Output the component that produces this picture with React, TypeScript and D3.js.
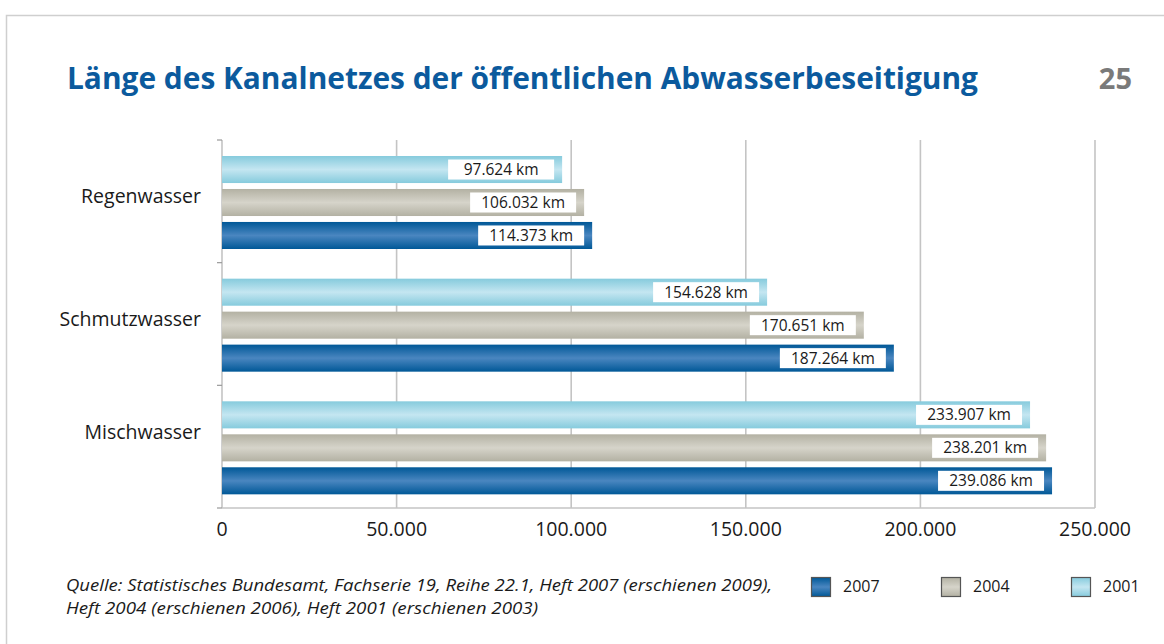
import React from 'react';
import * as d3 from 'd3';

// categories from top to bottom
const categories = ['Regenwasser', 'Schmutzwasser', 'Mischwasser'];
// series drawn inside each category, top to bottom
const series = ['2001', '2004', '2007'];
// bar lengths as drawn in the picture (km)
const values2001 = [97400, 156100, 231400];
const values2004 = [103700, 183800, 236000];
const values2007 = [106000, 192400, 237700];
// printed labels on the bars
const labels2001 = ['97.624 km', '154.628 km', '233.907 km'];
const labels2004 = ['106.032 km', '170.651 km', '238.201 km'];
const labels2007 = ['114.373 km', '187.264 km', '239.086 km'];
const xTicks = [0, 50000, 100000, 150000, 200000, 250000];
const legendOrder = ['2007', '2004', '2001'];

const valuesBySeries: Record<string, number[]> = { '2001': values2001, '2004': values2004, '2007': values2007 };
const labelsBySeries: Record<string, string[]> = { '2001': labels2001, '2004': labels2004, '2007': labels2007 };

// gradient stops: edge, centre
const colors: Record<string, [string, string]> = {
  '2007': ['#005897', '#4a86c0'],
  '2004': ['#b3b1a3', '#d6d4ca'],
  '2001': ['#86cbdd', '#c4e6f1'],
};

const fmt = (v: number) => (v === 0 ? '0' : d3.format(',')(v).replace(/,/g, '.'));

export default function App() {
  const width = 1164;
  const height = 644;
  const x = d3.scaleLinear().domain([0, 250000]).range([222, 1095]);
  const y = d3.scaleBand().domain(categories).range([140, 508]).padding(0);
  const yInner = d3.scaleBand().domain(series).range([16, 109]).paddingInner(0.18).paddingOuter(0);
  const bh = yInner.bandwidth();
  const grid = '#c4c4c4';
  const boundaries = [...categories.map((c) => y(c) as number), 508];

  return (
    <svg width={width} height={height} style={{ position: 'absolute', left: 0, top: 0, background: '#fff' }}>
      <defs>
        {series.map((s) => (
          <linearGradient key={s} id={'g' + s} x1="0" y1="0" x2="0" y2="1">
            <stop offset="0%" stopColor={colors[s][0]} />
            <stop offset="50%" stopColor={colors[s][1]} />
            <stop offset="100%" stopColor={colors[s][0]} />
          </linearGradient>
        ))}
      </defs>
      {/* frame */}
      <path d="M6.5,660 V15.5 H1170" fill="none" stroke="#cfcfcf" strokeWidth={1.5} />

      <text x={67} y={89} fontFamily="'Open Sans', sans-serif" fontWeight={700} fontSize={31} fill="#0b5a9d"
        textLength={911} lengthAdjust="spacingAndGlyphs">
        Länge des Kanalnetzes der öffentlichen Abwasserbeseitigung
      </text>
      <text x={1132} y={89} textAnchor="end" fontFamily="'Open Sans', sans-serif" fontWeight={700} fontSize={29} fill="#7a7a7a">
        25
      </text>

      {/* grid */}
      {xTicks.map((t) => (
        <line key={t} x1={x(t)} x2={x(t)} y1={140} y2={508} stroke={grid} strokeWidth={1.6} />
      ))}
      <line x1={x(0)} x2={x(250000)} y1={508} y2={508} stroke={grid} strokeWidth={1.6} />
      {boundaries.map((b, i) => (
        <line key={i} x1={217} x2={222} y1={b} y2={b} stroke="#9a9a9a" strokeWidth={1.2} />
      ))}

      {/* bars */}
      {categories.map((c, ci) => (
        <g key={c} transform={`translate(0,${y(c)})`}>
          {series.map((s) => {
            const v = valuesBySeries[s][ci];
            const by = yInner(s) as number;
            const xe = x(v);
            return (
              <g key={s}>
                <rect x={x(0)} y={by} width={xe - x(0)} height={bh} fill={`url(#g${s})`} />
                <rect x={xe - 8 - 106} y={by + bh / 2 - 10} width={106} height={20} fill="#fff" />
                <text x={xe - 8 - 53} y={by + bh / 2 + 5.5} textAnchor="middle" fontFamily="'Open Sans', sans-serif"
                  fontSize={15.5} fill="#1a1a1a">
                  {labelsBySeries[s][ci]}
                </text>
              </g>
            );
          })}
          <text x={201} y={(y.bandwidth() / 2) + (ci === 2 ? -8 : 2)} textAnchor="end" fontFamily="'Open Sans', sans-serif"
            fontSize={19.5} fill="#1a1a1a">
            {c}
          </text>
        </g>
      ))}

      {/* x tick labels */}
      {xTicks.map((t) => (
        <text key={t} x={x(t)} y={536} textAnchor="middle" fontFamily="'Open Sans', sans-serif" fontSize={19.5} fill="#1a1a1a">
          {fmt(t)}
        </text>
      ))}

      {/* source */}
      <g fontFamily="'Open Sans', sans-serif" fontStyle="italic" fontSize={15.5} fill="#1a1a1a">
        <text x={66} y={591} textLength={706} lengthAdjust="spacingAndGlyphs">
          Quelle: Statistisches Bundesamt, Fachserie 19, Reihe 22.1, Heft 2007 (erschienen 2009),
        </text>
        <text x={66} y={614} textLength={472} lengthAdjust="spacingAndGlyphs">
          Heft 2004 (erschienen 2006), Heft 2001 (erschienen 2003)
        </text>
      </g>

      {/* legend */}
      {legendOrder.map((s, i) => {
        const lx = [811, 941, 1071][i];
        return (
          <g key={s}>
            <rect x={lx + 0.5} y={577.5} width={19} height={19} fill={`url(#g${s})`} stroke="#555" strokeWidth={1.2} />
            <text x={lx + 32} y={592} fontFamily="'Open Sans', sans-serif" fontSize={16} fill="#1a1a1a">
              {s}
            </text>
          </g>
        );
      })}
    </svg>
  );
}
